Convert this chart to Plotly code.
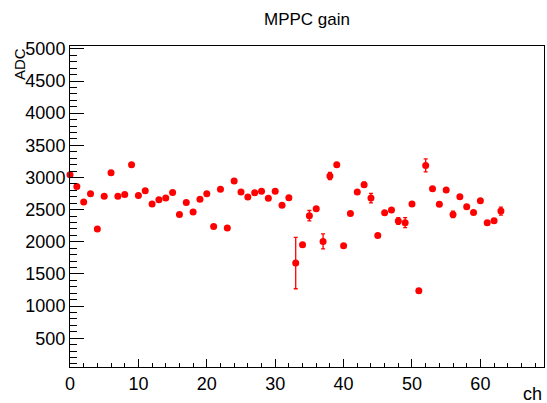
import plotly.graph_objects as go

channels = list(range(64))
gain = [3043, 2861, 2617, 2748, 2197, 2706, 3074, 2706, 2737, 3199,
        2721, 2794, 2586, 2655, 2679, 2768, 2426, 2612, 2462, 2660,
        2748, 2239, 2815, 2213, 2944, 2773, 2695, 2763, 2784, 2675,
        2784, 2566, 2686, 1669, 1955, 2406, 2515, 2006, 3022, 3199,
        1939, 2441, 2773, 2888, 2679, 2099, 2452, 2493, 2322, 2297,
        2586, 1239, 3188, 2826, 2582, 2804, 2426, 2701, 2546, 2457,
        2639, 2297, 2328, 2477]
gain_err = [20, 20, 20, 20, 20, 20, 20, 20, 20, 20,
            20, 20, 20, 20, 20, 20, 20, 20, 20, 20,
            20, 20, 20, 20, 20, 20, 20, 20, 20, 20,
            20, 20, 20, 400, 20, 80, 20, 117, 55, 20,
            20, 20, 20, 40, 73, 20, 20, 20, 52, 78,
            20, 20, 100, 20, 30, 20, 50, 20, 20, 20,
            20, 20, 20, 62]

W, H = 547, 403
L, R, T, B = 70, 3, 46, 36
pw, ph = W - L - R, H - T - B
font = "Liberation Sans, Arial, Helvetica, sans-serif"

fig = go.Figure(go.Scatter(
    x=channels, y=gain, mode="markers", cliponaxis=False,
    marker=dict(color="#ff0000", size=7, symbol="circle"),
    error_y=dict(type="data", array=gain_err, color="#ff0000", thickness=1.3, width=2),
))

axis_common = dict(showgrid=False, zeroline=False, showline=True, linecolor="black",
                   linewidth=1, mirror=True, ticks="inside", tickcolor="black",
                   tickfont=dict(family=font, size=18, color="black"))

fig.update_layout(
    width=W, height=H,
    margin=dict(l=L, r=R, t=T, b=B),
    paper_bgcolor="white", plot_bgcolor="white",
    showlegend=False,
    xaxis=dict(range=[0, 69.3], tickmode="linear", tick0=0, dtick=10, ticklen=8,
               minor=dict(dtick=2, ticklen=4, ticks="inside", tickcolor="black"),
               **axis_common),
    yaxis=dict(range=[52, 5045], tickmode="linear", tick0=0, dtick=500, ticklen=14,
               minor=dict(dtick=100, ticklen=7, ticks="inside", tickcolor="black"),
               **axis_common),
    annotations=[
        dict(text="MPPC gain", xref="paper", yref="paper", x=0.5, y=1 + (T - 20) / ph,
             xanchor="center", yanchor="middle", showarrow=False,
             font=dict(family=font, size=17, color="black")),
        dict(text="ADC", xref="paper", yref="paper", x=(19 - L) / pw, y=1,
             xanchor="center", yanchor="top", textangle=-90, showarrow=False,
             font=dict(family=font, size=15, color="black")),
        dict(text="ch", xref="paper", yref="paper", x=1, y=-(394 - (H - B)) / ph,
             xanchor="right", yanchor="middle", showarrow=False,
             font=dict(family=font, size=18, color="black")),
    ],
)

fig.write_html("out.html", config={"displayModeBar": False},
               post_script="document.body.style.margin='0';document.body.style.overflow='hidden';")
